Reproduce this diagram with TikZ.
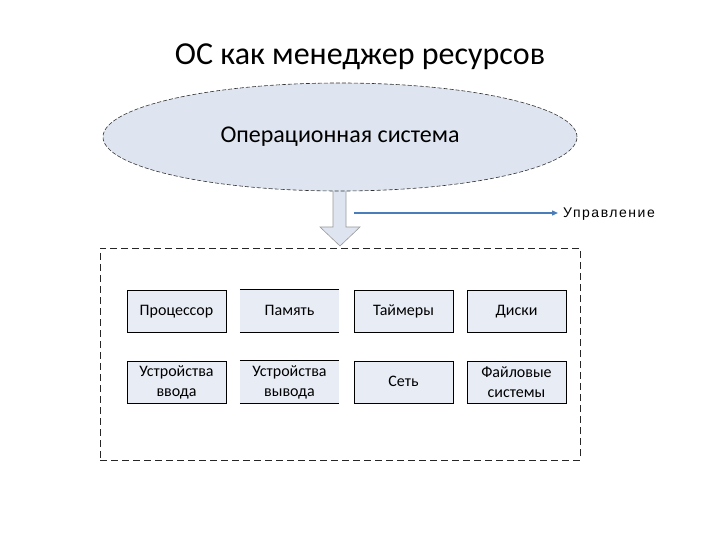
\documentclass[tikz,border=0pt]{standalone}
\usepackage{fontspec}
\setmainfont{Carlito}
\newfontfamily\labfont[LetterSpace=11]{Liberation Sans}
\usetikzlibrary{shapes.geometric,arrows.meta}
\definecolor{ellfill}{HTML}{DEE5F0}
\definecolor{boxfill}{HTML}{E8ECF5}
\definecolor{ctrl}{HTML}{4A7EBB}
\tikzset{
  res/.style={fill=boxfill, minimum width=99pt, minimum height=42pt, inner sep=0pt, align=center, font=\fontsize{16}{20}\selectfont},
  resbox/.style={res, draw=black, line width=0.8pt},
}
\newcommand{\rt}[1]{\strut #1}
\begin{document}
\begin{tikzpicture}[x=1pt,y=-1pt]
\useasboundingbox (0,0) rectangle (720,540);
\node[font=\fontsize{32}{34}\selectfont] (title) at (360,57) {ОС как менеджер ресурсов};
% block arrow
\fill[ellfill, draw=gray!80, line width=0.6pt] (333,185) -- (346,185) -- (346,227) -- (360,227) -- (340,246) -- (320,227) -- (333,227) -- cycle;
\node[ellipse, draw=black!80, dashed, dash pattern=on 4pt off 2pt, line width=0.6pt, fill=ellfill, minimum width=474pt, minimum height=108pt, font=\fontsize{24}{26}\selectfont] (os) at (340,137) {Операционная система};
\coordinate (cs) at (354,213);
\coordinate (ce) at (558,213);
\node[anchor=west, inner sep=0pt, font=\labfont\fontsize{14}{16}\selectfont] (upr) at (563,214.5) {Управление};
\draw[ctrl, line width=1.2pt, -{Triangle[length=6pt,width=5pt]}] (cs) -- (ce);
% dashed frame
\node[draw=black!85, dashed, dash pattern=on 7pt off 4pt, line width=0.8pt, minimum width=480pt, minimum height=212pt, inner sep=0pt] (frame) at (340,354) {};
% resources
\node[resbox] (cpu) at (176.5,311) {\rt{Процессор}};
\node[res] (mem) at (289.5,311) {\rt{Память}};
\draw[line width=0.8pt] (mem.north west) -- (mem.north east) (mem.south west) -- (mem.south east);
\node[resbox] (tim) at (403.5,311) {\rt{Таймеры}};
\node[resbox] (dsk) at (516.5,311) {\rt{Диски}};
\node[resbox] (in) at (176.5,382) {Устройства\\ввода};
\node[res] (out) at (289.5,382) {Устройства\\вывода};
\draw[line width=0.8pt] (out.north west) -- (out.north east) (out.south west) -- (out.south east);
\node[resbox] (net) at (403.5,382) {\rt{Сеть}};
\node[resbox] (fs) at (516.5,382) {Файловые\\системы};
\end{tikzpicture}
\end{document}
